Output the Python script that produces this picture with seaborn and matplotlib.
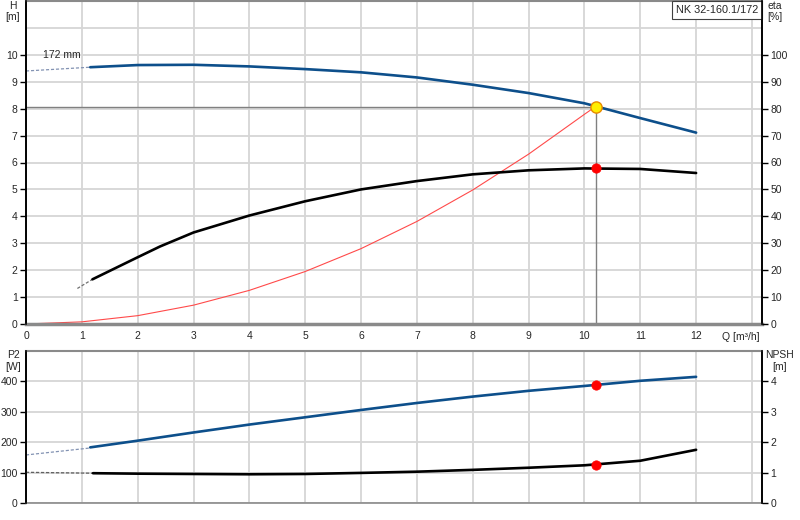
import matplotlib
matplotlib.use("Agg")
import matplotlib.pyplot as plt
import seaborn as sns
import numpy as np

# ---------------- data ----------------
q_h_ext = [0.0, 1.15]
h_ext = [9.40, 9.54]
q_h = [1.15, 2, 3, 4, 5, 6, 7, 8, 9, 10, 11, 12]
h_vals = [9.54, 9.62, 9.63, 9.57, 9.47, 9.35, 9.16, 8.89, 8.58, 8.20, 7.65, 7.11]

q_eta_ext = [0.92, 1.19]
eta_ext = [13.2, 16.6]
q_eta = [1.19, 2, 2.4, 3, 4, 5, 6, 7, 8, 9, 10, 11, 12]
eta_vals = [16.6, 24.8, 28.8, 34.0, 40.3, 45.6, 50.0, 53.1, 55.6, 57.1, 57.8, 57.6, 56.1]

q_sys = [0, 1, 2, 3, 4, 5, 6, 7, 8, 9, 10, 10.2]
h_sys = [0.0, 0.08, 0.31, 0.70, 1.25, 1.95, 2.80, 3.81, 4.98, 6.31, 7.79, 8.08]

q_p2_ext = [0.0, 1.15]
p2_ext = [158, 181]
q_p2 = [1.15, 2, 3, 4, 5, 6, 7, 8, 9, 10, 11, 12]
p2_vals = [183, 205, 232, 258, 282, 306, 329, 350, 369, 385, 402, 415]

q_npsh_ext = [0.0, 1.2]
npsh_ext = [1.01, 0.98]
q_npsh = [1.2, 2, 3, 4, 5, 6, 7, 8, 9, 10, 11, 12]
npsh_vals = [0.98, 0.965, 0.955, 0.945, 0.955, 0.99, 1.03, 1.09, 1.16, 1.24, 1.39, 1.75]

q_op = 10.2
h_op = 8.08
eta_op = 57.8
p2_op = 388
npsh_op = 1.26

x_ticks = list(range(0, 14))
x_labels = [str(v) for v in range(0, 13)] + [""]
h_ticks = list(range(0, 11))
eta_ticks = list(range(0, 101, 10))
p2_ticks = [0, 100, 200, 300, 400]
npsh_ticks = [0, 1, 2, 3, 4]

title = "NK 32-160.1/172"
impeller = "172 mm"

# ---------------- style ----------------
sns.set_style("white")
plt.rcParams['font.family'] = ['Liberation Sans', 'DejaVu Sans']
FS = 7.5
BLUE = '#0d4f8b'
GRID = '#d6d6d6'
SPINE_GRAY = '#8a8a8a'

W, H = 800, 520
fig = plt.figure(figsize=(8, 5.2), dpi=100)
ax1 = fig.add_axes([26 / W, 1 - 324 / H, 736 / W, 323 / H])
ax2 = fig.add_axes([26 / W, 1 - 503 / H, 736 / W, 152 / H])
XMAX = 13.18


def style_axes(ax, ylim, major, minor):
    ax.set_xlim(0, XMAX)
    ax.set_ylim(*ylim)
    ax.set_xticks(x_ticks)
    ax.set_yticks(major)
    ax.set_yticks(minor, minor=True)
    ax.grid(True, which='both', color=GRID, lw=1.3)
    ax.set_axisbelow(True)
    ax.tick_params(axis='y', which='major', direction='out', length=4, width=1,
                   labelsize=FS, pad=2, color='black')
    ax.tick_params(axis='y', which='minor', length=0)
    for s in ['left', 'right']:
        ax.spines[s].set_color('black')
        ax.spines[s].set_linewidth(1.2)
    ax.spines['top'].set_color(SPINE_GRAY)
    ax.spines['top'].set_linewidth(1.5)
    ax.spines['bottom'].set_color(SPINE_GRAY)


style_axes(ax1, (0, 12), h_ticks, [11, 12])
style_axes(ax2, (0, 500), p2_ticks, [500])
ax1.spines['bottom'].set_linewidth(2.5)
ax2.spines['bottom'].set_linewidth(1.2)

ax1.set_xticklabels(x_labels)
ax1.tick_params(axis='x', direction='out', length=3, width=1, labelsize=FS,
                pad=2, color=SPINE_GRAY)
ax2.set_xticklabels([])
ax2.tick_params(axis='x', length=0)

ax1t = ax1.twinx()
ax1t.set_ylim(0, 120)
ax1t.set_yticks(eta_ticks)
ax2t = ax2.twinx()
ax2t.set_ylim(0, 5)
ax2t.set_yticks(npsh_ticks)
for axt in (ax1t, ax2t):
    axt.set_xlim(0, XMAX)
    axt.grid(False)
    axt.tick_params(axis='y', direction='out', length=4, width=1,
                    labelsize=FS, pad=2, color='black')
    for s in ['left', 'right']:
        axt.spines[s].set_color('black')
        axt.spines[s].set_linewidth(1.2)
    axt.spines['top'].set_visible(False)
    axt.spines['bottom'].set_visible(False)

# ---------------- top panel ----------------
sns.lineplot(x=q_h_ext, y=h_ext, ax=ax1, color='#8393b3', lw=0.9,
             linestyle=(0, (2.5, 1.5)))
sns.lineplot(x=q_h, y=h_vals, ax=ax1, color=BLUE, lw=1.9)
sns.lineplot(x=q_sys, y=h_sys, ax=ax1, color='#ff4a4a', lw=0.8)
ax1.plot([0, q_op], [h_op, h_op], color='#808080', lw=1.0, zorder=2)
ax1.plot([q_op, q_op], [0, h_op], color='#808080', lw=1.0, zorder=2)

sns.lineplot(x=q_eta_ext, y=eta_ext, ax=ax1t, color='#707070', lw=0.9,
             linestyle=(0, (2.5, 1.5)))
sns.lineplot(x=q_eta, y=eta_vals, ax=ax1t, color='black', lw=1.9)
sns.scatterplot(x=[q_op], y=[eta_op], ax=ax1t, color='#ff0000', s=45,
                edgecolor='#ff0000', zorder=5)
sns.scatterplot(x=[q_op], y=[h_op * 10], ax=ax1t, color='#ffee00', s=65,
                edgecolor='#e88a00', linewidth=1.0, zorder=6)

ax1.text(0.65, 9.80, impeller, fontsize=FS, ha='center', va='bottom')
ax1.text(12.8, -0.3, "Q [m³/h]", fontsize=FS, ha='center', va='top')
ax1.text((758 - 26) / 736, 1 - 4 / 323, title, transform=ax1.transAxes,
         fontsize=7.8, ha='right', va='top', zorder=10,
         bbox=dict(boxstyle='square,pad=0.35', fc='white', ec='#404040', lw=0.8))

# ---------------- bottom panel ----------------
sns.lineplot(x=q_p2_ext, y=p2_ext, ax=ax2, color='#8393b3', lw=0.9,
             linestyle=(0, (2.5, 1.5)))
sns.lineplot(x=q_p2, y=p2_vals, ax=ax2, color=BLUE, lw=1.9)
sns.scatterplot(x=[q_op], y=[p2_op], ax=ax2, color='#ff0000', s=45,
                edgecolor='#ff0000', zorder=5)

sns.lineplot(x=q_npsh_ext, y=npsh_ext, ax=ax2t, color='#606060', lw=0.9,
             linestyle=(0, (2.5, 1.5)))
sns.lineplot(x=q_npsh, y=npsh_vals, ax=ax2t, color='black', lw=1.9)
sns.scatterplot(x=[q_op], y=[npsh_op], ax=ax2t, color='#ff0000', s=45,
                edgecolor='#ff0000', zorder=5)

for a in (ax1, ax1t, ax2, ax2t):
    a.set_xlabel("")
    a.set_ylabel("")
    if a.get_legend():
        a.get_legend().remove()

# axis captions
fig.text(13 / W, 1 - 6 / H, "H", fontsize=FS, ha='center', va='center')
fig.text(13 / W, 1 - 17 / H, "[m]", fontsize=FS, ha='center', va='center')
fig.text(775 / W, 1 - 6 / H, "eta", fontsize=FS, ha='center', va='center')
fig.text(775 / W, 1 - 17 / H, "[%]", fontsize=FS, ha='center', va='center')
fig.text(13 / W, 1 - 355 / H, "P2", fontsize=FS, ha='center', va='center')
fig.text(13 / W, 1 - 367 / H, "[W]", fontsize=FS, ha='center', va='center')
fig.text(780 / W, 1 - 355 / H, "NPSH", fontsize=FS, ha='center', va='center')
fig.text(780 / W, 1 - 367 / H, "[m]", fontsize=FS, ha='center', va='center')

fig.savefig("out.png", dpi=100, facecolor='white')
